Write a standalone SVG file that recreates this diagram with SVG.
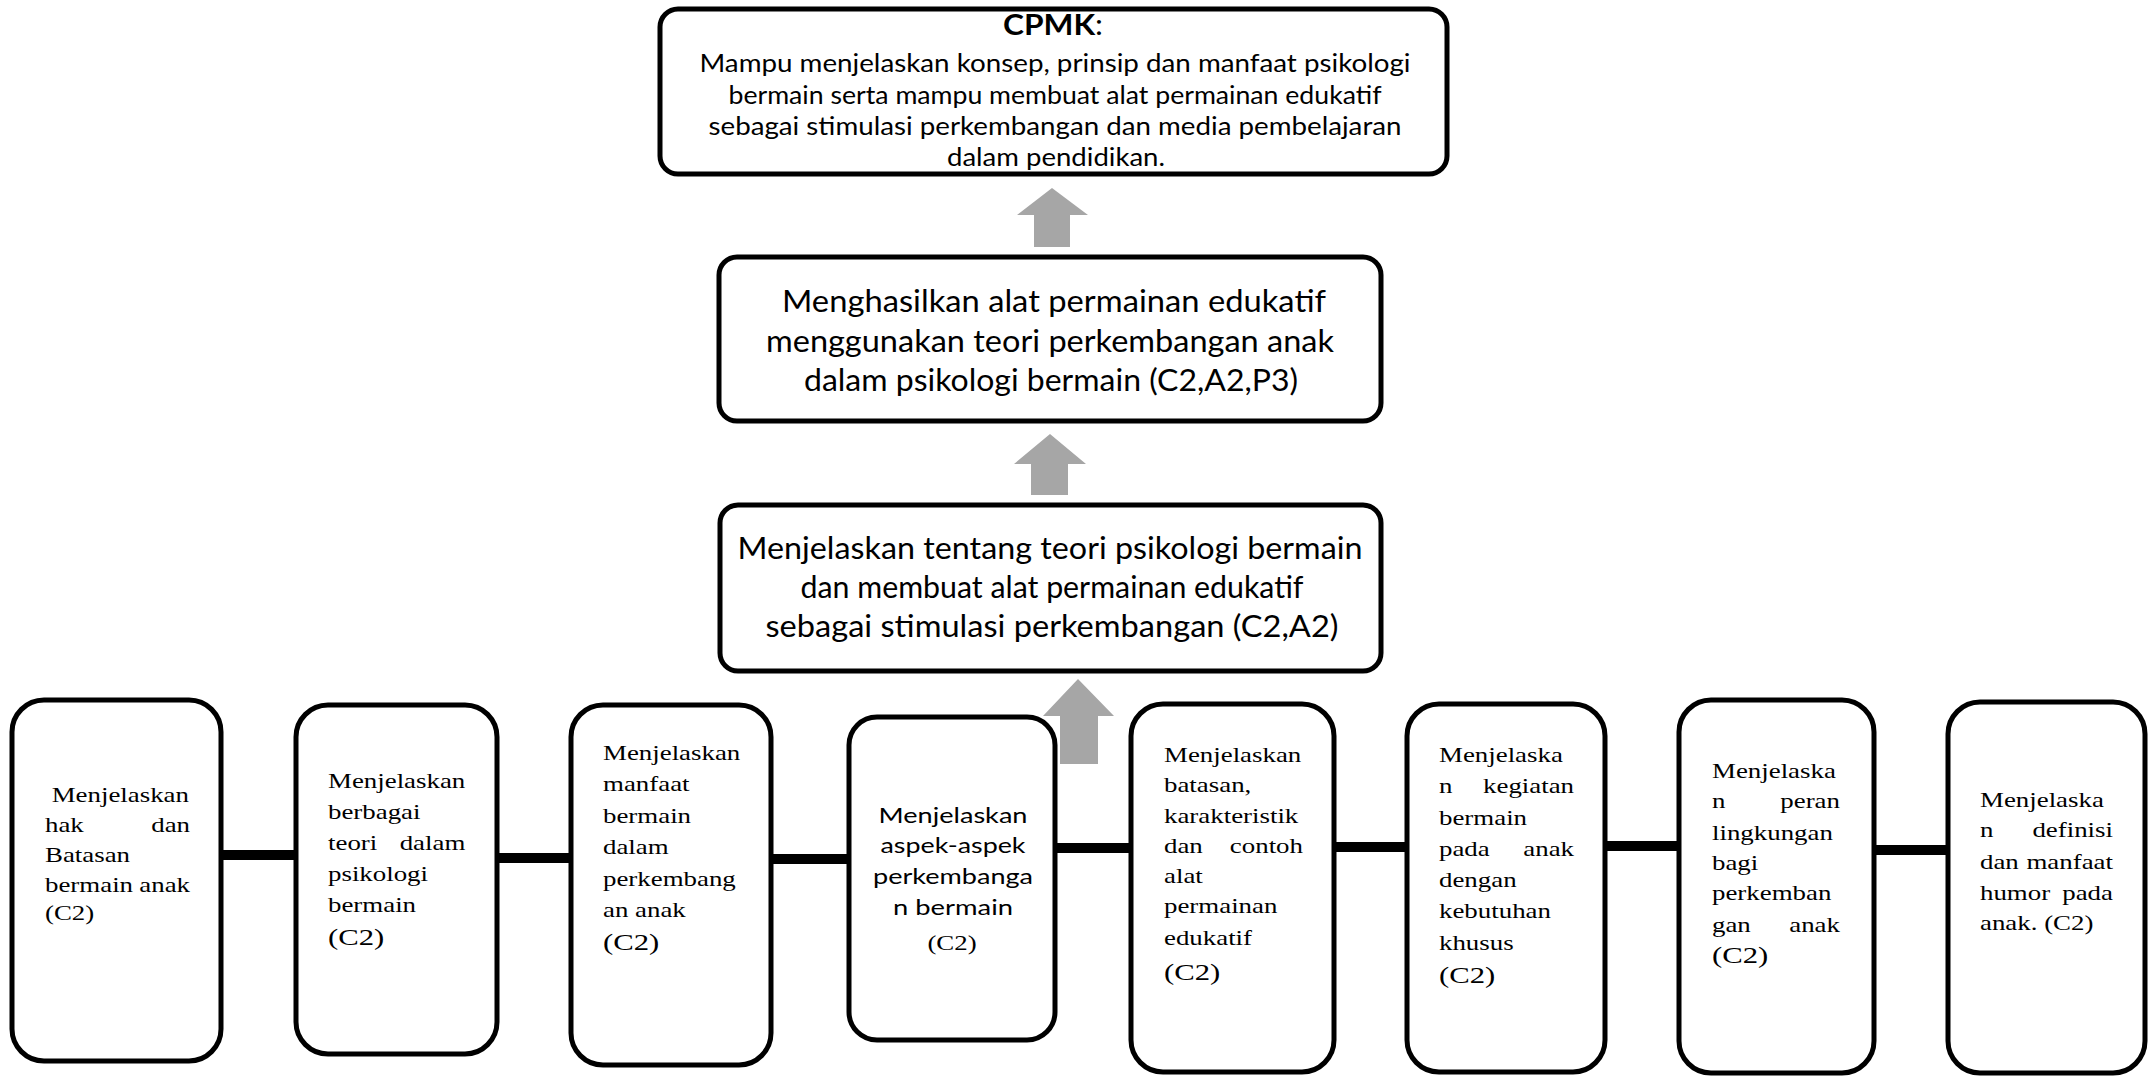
<svg xmlns="http://www.w3.org/2000/svg" width="2152" height="1076" viewBox="0 0 2152 1076">
<style>
.box{fill:#fff;stroke:#000;stroke-width:5}
.conn{stroke:#000;stroke-width:10;fill:none}
.arrow{fill:#a6a6a6}
.sans{font-family:Lato,"Liberation Sans",sans-serif;fill:#000}
.serif{font-family:"Liberation Serif","Times New Roman",serif;font-size:21px;fill:#000}
.big{font-size:24px}
</style>
<rect width="2152" height="1076" fill="#fff"/>
<g id="connectors">
<line class="conn" x1="221" y1="855" x2="296" y2="855"/>
<line class="conn" x1="497" y1="858" x2="571" y2="858"/>
<line class="conn" x1="771" y1="859" x2="849" y2="859"/>
<line class="conn" x1="1055" y1="848" x2="1131" y2="848"/>
<line class="conn" x1="1334" y1="847" x2="1407" y2="847"/>
<line class="conn" x1="1605" y1="846" x2="1679" y2="846"/>
<line class="conn" x1="1874" y1="850" x2="1948" y2="850"/>
<polygon class="arrow" points="1052,188 1088,215 1070,215 1070,247 1034,247 1034,215 1017,215"/>
<polygon class="arrow" points="1050,434 1086,464 1068,464 1068,495 1031,495 1031,464 1014,464"/>
<polygon class="arrow" points="1078,679 1114,716 1098,716 1098,764 1060,764 1060,716 1043,716"/>
</g>
<g id="cpmk">
<rect class="box" x="660" y="9" width="787" height="165" rx="18"/>
<text class="sans" x="1053" y="35" text-anchor="middle" font-size="28" textLength="100" lengthAdjust="spacingAndGlyphs"><tspan font-weight="bold">CPMK</tspan>:</text>
<text class="sans" x="1055" y="72" text-anchor="middle" font-size="25" textLength="711" lengthAdjust="spacingAndGlyphs">Mampu menjelaskan konsep, prinsip dan manfaat psikologi</text>
<text class="sans" x="1055" y="104" text-anchor="middle" font-size="25" textLength="653" lengthAdjust="spacingAndGlyphs">bermain serta mampu membuat alat permainan edukatif</text>
<text class="sans" x="1055" y="135" text-anchor="middle" font-size="25" textLength="693" lengthAdjust="spacingAndGlyphs">sebagai stimulasi perkembangan dan media pembelajaran</text>
<text class="sans" x="1056" y="166" text-anchor="middle" font-size="25" textLength="218" lengthAdjust="spacingAndGlyphs">dalam pendidikan.</text>
</g>
<g id="menghasilkan">
<rect class="box" x="719" y="257" width="662" height="164" rx="18"/>
<text class="sans" x="1054" y="312" text-anchor="middle" font-size="30" textLength="544" lengthAdjust="spacingAndGlyphs">Menghasilkan alat permainan edukatif</text>
<text class="sans" x="1050" y="352" text-anchor="middle" font-size="30" textLength="568" lengthAdjust="spacingAndGlyphs">menggunakan teori perkembangan anak</text>
<text class="sans" x="1051" y="391" text-anchor="middle" font-size="30" textLength="494" lengthAdjust="spacingAndGlyphs">dalam psikologi bermain (C2,A2,P3)</text>
</g>
<g id="teori">
<rect class="box" x="720" y="505" width="661" height="166" rx="18"/>
<text class="sans" x="1050" y="559" text-anchor="middle" font-size="30" textLength="625" lengthAdjust="spacingAndGlyphs">Menjelaskan tentang teori psikologi bermain</text>
<text class="sans" x="1052" y="598" text-anchor="middle" font-size="30" textLength="503" lengthAdjust="spacingAndGlyphs">dan membuat alat permainan edukatif</text>
<text class="sans" x="1052" y="637" text-anchor="middle" font-size="30" textLength="573" lengthAdjust="spacingAndGlyphs">sebagai stimulasi perkembangan (C2,A2)</text>
</g>
<g id="n1">
<rect class="box" x="12" y="700" width="209" height="361" rx="32"/>
<g transform="translate(45,0) scale(1.28,1)">
<text class="serif" x="5.25" y="802">Menjelaskan</text>
<text class="serif" x="0" y="832">hak</text><text class="serif" x="113.3" y="832" text-anchor="end">dan</text>
<text class="serif" x="0" y="862">Batasan</text>
<text class="serif" x="0" y="892">bermain</text><text class="serif" x="113.3" y="892" text-anchor="end">anak</text>
<text class="serif" x="0" y="920">(C2)</text>
</g>
</g>
<g id="n2">
<rect class="box" x="296" y="705" width="201" height="349" rx="32"/>
<g transform="translate(328,0) scale(1.28,1)">
<text class="serif" x="0" y="788">Menjelaskan</text>
<text class="serif" x="0" y="819">berbagai</text>
<text class="serif" x="0" y="850">teori</text><text class="serif" x="107.3" y="850" text-anchor="end">dalam</text>
<text class="serif" x="0" y="881">psikologi</text>
<text class="serif" x="0" y="912">bermain</text>
<text class="serif big" x="0" y="945">(C2)</text>
</g>
</g>
<g id="n3">
<rect class="box" x="571" y="705" width="200" height="360" rx="32"/>
<g transform="translate(603,0) scale(1.28,1)">
<text class="serif" x="0" y="760">Menjelaskan</text>
<text class="serif" x="0" y="791">manfaat</text>
<text class="serif" x="0" y="823">bermain</text>
<text class="serif" x="0" y="854">dalam</text>
<text class="serif" x="0" y="886">perkembang</text>
<text class="serif" x="0" y="917">an anak</text>
<text class="serif big" x="0" y="950">(C2)</text>
</g>
</g>
<g id="n4">
<rect class="box" x="849" y="717" width="206" height="323" rx="28"/>
<text class="sans" x="953" y="823" text-anchor="middle" font-size="22" textLength="149" lengthAdjust="spacingAndGlyphs">Menjelaskan</text>
<text class="sans" x="953" y="853" text-anchor="middle" font-size="22" textLength="145" lengthAdjust="spacingAndGlyphs">aspek-aspek</text>
<text class="sans" x="953" y="884" text-anchor="middle" font-size="22" textLength="160" lengthAdjust="spacingAndGlyphs">perkembanga</text>
<text class="sans" x="953" y="915" text-anchor="middle" font-size="22" textLength="120" lengthAdjust="spacingAndGlyphs">n bermain</text>
<g transform="translate(952,0) scale(1.28,1)">
<text class="serif" x="0" y="950" text-anchor="middle">(C2)</text>
</g>
</g>
<g id="n5">
<rect class="box" x="1131" y="704" width="203" height="368" rx="32"/>
<g transform="translate(1164,0) scale(1.28,1)">
<text class="serif" x="0" y="762">Menjelaskan</text>
<text class="serif" x="0" y="792">batasan,</text>
<text class="serif" x="0" y="823">karakteristik</text>
<text class="serif" x="0" y="853">dan</text><text class="serif" x="108.6" y="853" text-anchor="end">contoh</text>
<text class="serif" x="0" y="883">alat</text>
<text class="serif" x="0" y="913">permainan</text>
<text class="serif" x="0" y="945">edukatif</text>
<text class="serif big" x="0" y="980">(C2)</text>
</g>
</g>
<g id="n6">
<rect class="box" x="1407" y="704" width="198" height="368" rx="32"/>
<g transform="translate(1439,0) scale(1.28,1)">
<text class="serif" x="0" y="762">Menjelaska</text>
<text class="serif" x="0" y="793">n</text><text class="serif" x="105.5" y="793" text-anchor="end">kegiatan</text>
<text class="serif" x="0" y="825">bermain</text>
<text class="serif" x="0" y="856">pada</text><text class="serif" x="105.5" y="856" text-anchor="end">anak</text>
<text class="serif" x="0" y="887">dengan</text>
<text class="serif" x="0" y="918">kebutuhan</text>
<text class="serif" x="0" y="950">khusus</text>
<text class="serif big" x="0" y="983">(C2)</text>
</g>
</g>
<g id="n7">
<rect class="box" x="1679" y="700" width="195" height="373" rx="32"/>
<g transform="translate(1712,0) scale(1.28,1)">
<text class="serif" x="0" y="778">Menjelaska</text>
<text class="serif" x="0" y="808">n</text><text class="serif" x="100" y="808" text-anchor="end">peran</text>
<text class="serif" x="0" y="840">lingkungan</text>
<text class="serif" x="0" y="870">bagi</text>
<text class="serif" x="0" y="900">perkemban</text>
<text class="serif" x="0" y="932">gan</text><text class="serif" x="100" y="932" text-anchor="end">anak</text>
<text class="serif big" x="0" y="963">(C2)</text>
</g>
</g>
<g id="n8">
<rect class="box" x="1948" y="702" width="197" height="371" rx="32"/>
<g transform="translate(1980,0) scale(1.28,1)">
<text class="serif" x="0" y="807">Menjelaska</text>
<text class="serif" x="0" y="837">n</text><text class="serif" x="103.9" y="837" text-anchor="end">definisi</text>
<text class="serif" x="0" y="869">dan</text><text class="serif" x="103.9" y="869" text-anchor="end">manfaat</text>
<text class="serif" x="0" y="900">humor</text><text class="serif" x="103.9" y="900" text-anchor="end">pada</text>
<text class="serif" x="0" y="930">anak. (C2)</text>
</g>
</g>
</svg>
